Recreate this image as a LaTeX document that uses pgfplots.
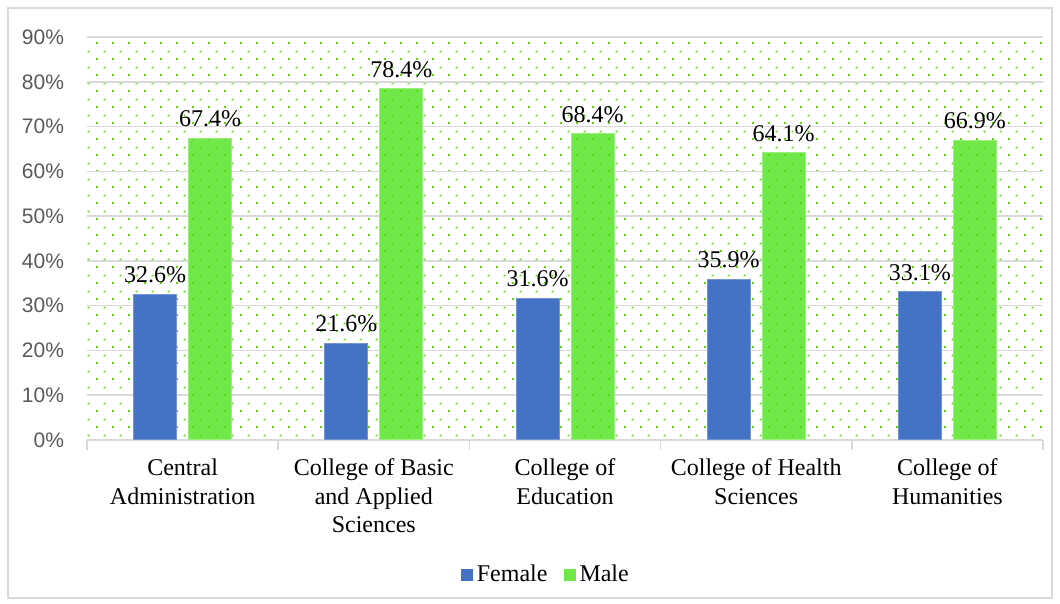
\documentclass[border=0pt]{standalone}
\usepackage{fontspec}
\setmainfont{Liberation Serif}
\newfontfamily\axisfont{Liberation Sans}
\usepackage{pgfplots}
\pgfplotsset{compat=1.18}
\usetikzlibrary{patterns.meta,calc}
\definecolor{femaleblue}{RGB}{68,114,196}
\definecolor{malegreen}{RGB}{112,232,74}
\definecolor{dotgreen}{RGB}{86,218,10}
\definecolor{gridgray}{RGB}{217,217,217}
\definecolor{ticktext}{RGB}{89,89,89}

\tikzdeclarepattern{
  name=gdots,
  type=uncolored,
  bottom left={(0pt,0pt)},
  top right={(8pt,8pt)},
  tile size={(8pt,8pt)},
  code={
    \fill (0pt,0pt) rectangle (1pt,1pt);
    \fill (4pt,4pt) rectangle (5pt,5pt);
  }
}

\begin{document}
\begin{tikzpicture}
\begin{axis}[
  name=ax,
  scale only axis,
  width=478pt, height=201.5pt,
  xmin=-0.5, xmax=4.5, ymin=0, ymax=90,
  ybar, bar width=21.5pt,
  axis background/.style={pattern={gdots}, pattern color=dotgreen},
  axis x line*=bottom, axis y line*=left,
  x axis line style={draw=gridgray, line width=0.8pt, -},
  y axis line style={draw=none},
  xtick={0,1,2,3,4},
  xticklabels={
    {Central\\Administration},
    {College of Basic\\and Applied\\Sciences},
    {College of\\Education},
    {College of Health\\Sciences},
    {College of\\Humanities}},
  minor xtick={-0.5,0.5,1.5,2.5,3.5,4.5},
  major tick length=0pt,
  minor tick length=5pt,
  tick align=outside,
  minor tick style={draw=gridgray, line width=0.8pt},
  xticklabel style={align=center, font=\fontsize{12}{14.25}\selectfont, text=black, yshift=-6pt},
  ytick={0,10,...,90},
  yticklabel={\pgfmathprintnumber{\tick}\%},
  yticklabel style={font=\axisfont\fontsize{10.5}{12}\selectfont, text=ticktext, xshift=-8pt},
  /pgf/number format/assume math mode=true,
  ymajorgrids, grid style={draw=gridgray, line width=0.8pt},
  nodes near coords={\pgfmathprintnumber[fixed,fixed zerofill,precision=1]{\pgfplotspointmeta}\%},
  nodes near coords style={font=\fontsize{12}{14}\selectfont, text=black, yshift=2pt},
  legend style={at={(0.481,-0.335)}, anchor=center, draw=none, fill=none,
    legend columns=2, font=\fontsize{12}{14}\selectfont,
    /tikz/every even column/.append style={column sep=6pt}},
  legend image code/.code={\fill[#1] (0pt,-3pt) rectangle (6pt,3pt);},
  clip=false,
]
\addplot[forget plot, bar shift=-13.75pt, fill=femaleblue, draw=femaleblue!75!white, line width=0.5pt] coordinates {
  (0,32.6) (1,21.6) (2,31.6) (3,35.9) (4,33.1)
};
\addplot[forget plot, bar shift=13.75pt, fill=malegreen, draw=malegreen!70!white, line width=0.5pt,
  postaction={pattern={gdots}, pattern color=dotgreen}] coordinates {
  (0,67.4) (1,78.4) (2,68.4) (3,64.1) (4,66.9)
};
\addlegendimage{fill=femaleblue, draw=none}
\addlegendentry{Female}
\addlegendimage{fill=malegreen, draw=none}
\addlegendentry{Male}
\end{axis}
\draw[gridgray, line width=0.6pt] ($(ax.south west)+(-39.5pt,-79pt)$) rectangle ($(ax.north east)+(4.5pt,14.5pt)$);
\pgfresetboundingbox
\path[use as bounding box] ($(ax.south west)+(-43.5pt,-82pt)$) rectangle ($(ax.north east)+(8.5pt,18.5pt)$);
\end{tikzpicture}
\end{document}
